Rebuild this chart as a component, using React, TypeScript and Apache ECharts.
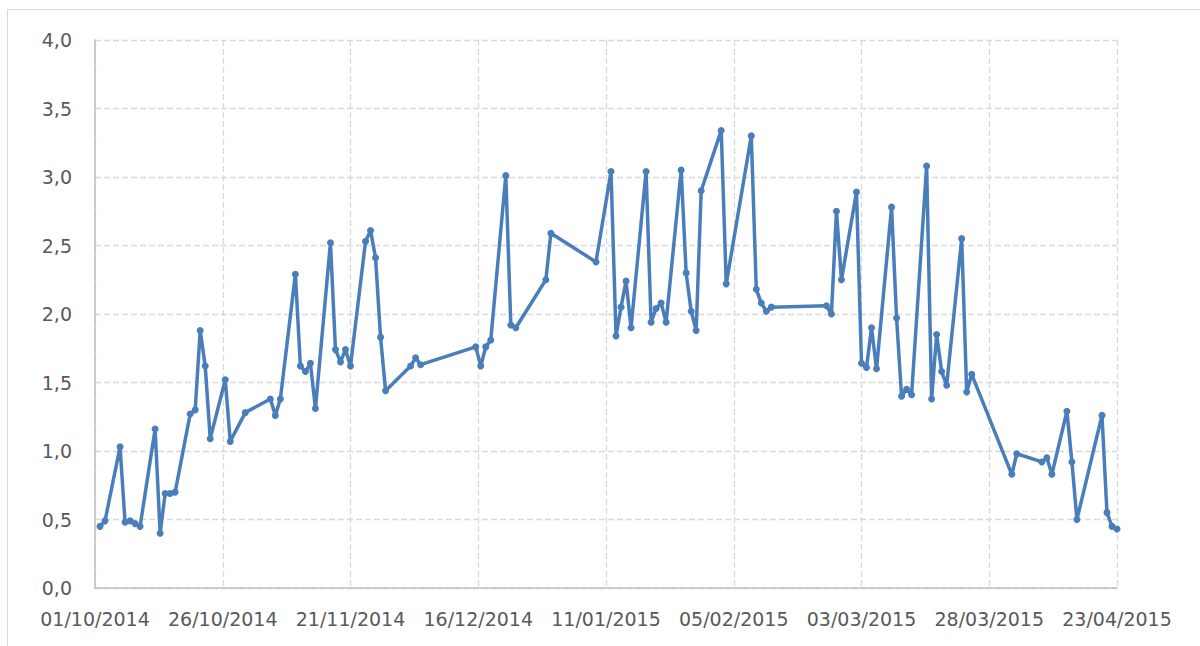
import React, { useEffect, useRef } from "react";
import * as echarts from "echarts";

// x: days since 01/10/2014
const days = [
  1, 2, 5, 6, 7, 8, 9, 12, 13, 14, 15, 16, 19, 20, 21, 22, 23, 26, 27, 30,
  35, 36, 37, 40, 41, 42, 43, 44, 47, 48, 49, 50, 51, 54, 55, 56, 57, 58, 63, 64, 65,
  76, 77, 78, 79, 82, 83, 84, 90, 91, 100,
  103, 104, 105, 106, 107, 110, 111, 112, 113, 114, 117, 118, 119, 120, 121, 125, 126,
  131, 132, 133, 134, 135, 146, 147, 148, 149, 152, 153, 154, 155, 156, 159, 160, 161,
  162, 163, 166, 167, 168, 169, 170, 173, 174, 175, 183, 184, 189, 190, 191, 194, 195,
  196, 201, 202, 203, 204,
];
const values = [
  0.45, 0.49, 1.03, 0.48, 0.49, 0.47, 0.45, 1.16, 0.4, 0.69, 0.69, 0.7, 1.27, 1.3, 1.88, 1.62, 1.09, 1.52, 1.07, 1.28,
  1.38, 1.26, 1.38, 2.29, 1.62, 1.58, 1.64, 1.31, 2.52, 1.74, 1.65, 1.74, 1.62, 2.53, 2.61, 2.41, 1.83, 1.44, 1.62, 1.68, 1.63,
  1.76, 1.62, 1.76, 1.81, 3.01, 1.92, 1.9, 2.25, 2.59, 2.38,
  3.04, 1.84, 2.05, 2.24, 1.9, 3.04, 1.94, 2.04, 2.08, 1.94, 3.05, 2.3, 2.02, 1.88, 2.9, 3.34, 2.22,
  3.3, 2.18, 2.08, 2.02, 2.05, 2.06, 2.0, 2.75, 2.25, 2.89, 1.64, 1.61, 1.9, 1.6, 2.78, 1.97, 1.4,
  1.45, 1.41, 3.08, 1.38, 1.85, 1.58, 1.48, 2.55, 1.43, 1.56, 0.83, 0.98, 0.92, 0.95, 0.83, 1.29, 0.92,
  0.5, 1.26, 0.55, 0.45, 0.43,
];
const startDate = Date.UTC(2014, 9, 1);
const dayMs = 86400000;
const xMin = 0;
const xMax = 204;
const xStep = 25.5;
const yMin = 0;
const yMax = 4;
const yStep = 0.5;

const pad = (n: number) => (n < 10 ? "0" + n : "" + n);
const fmtDate = (v: number) => {
  const d = new Date(startDate + Math.floor(v + 1e-9) * dayMs);
  return `${pad(d.getUTCDate())}/${pad(d.getUTCMonth() + 1)}/${d.getUTCFullYear()}`;
};

export default function App() {
  const ref = useRef<HTMLDivElement>(null);
  useEffect(() => {
    if (!ref.current) return;
    const chart = echarts.init(ref.current, undefined, { renderer: "svg" });
    const font = "DejaVu Sans";
    chart.setOption({
      animation: false,
      backgroundColor: "#ffffff",
      graphic: [
        {
          type: "rect",
          shape: { x: 7.5, y: 9.5, width: 1300, height: 700 },
          style: { fill: "none", stroke: "#d9d9d9", lineWidth: 1 },
          silent: true,
        },
      ],
      grid: { left: 95, right: 83, top: 40, bottom: 58 },
      xAxis: {
        type: "value",
        min: xMin,
        max: xMax,
        interval: xStep,
        axisLine: { show: true, onZero: false, lineStyle: { color: "#bfbfbf", width: 1.5 } },
        axisTick: { show: false },
        splitLine: { show: true, lineStyle: { color: "#d9d9d9", type: [6, 3], width: 1.3 } },
        axisLabel: {
          formatter: (v: number) => fmtDate(v),
          color: "#595959",
          fontFamily: font,
          fontSize: 19,
          margin: 21,
          showMinLabel: true,
          showMaxLabel: true,
        },
      },
      yAxis: {
        type: "value",
        min: yMin,
        max: yMax,
        interval: yStep,
        axisLine: { show: true, lineStyle: { color: "#bfbfbf", width: 1.5 } },
        axisTick: { show: false },
        splitLine: { show: true, lineStyle: { color: "#d9d9d9", type: [6, 3], width: 1.3 } },
        axisLabel: {
          formatter: (v: number) => v.toFixed(1).replace(".", ","),
          color: "#595959",
          fontFamily: font,
          fontSize: 19,
          margin: 23,
        },
      },
      series: [
        {
          type: "line",
          data: days.map((d, i) => [d, values[i]]),
          symbol: "circle",
          symbolSize: 7,
          showAllSymbol: true,
          itemStyle: { color: "#4a7ebb" },
          lineStyle: { color: "#4a7ebb", width: 3.5 },
        },
      ],
    });
    return () => chart.dispose();
  }, []);
  return (
    <div
      ref={ref}
      style={{ position: "fixed", left: 0, top: 0, width: 1200, height: 646 }}
    />
  );
}
